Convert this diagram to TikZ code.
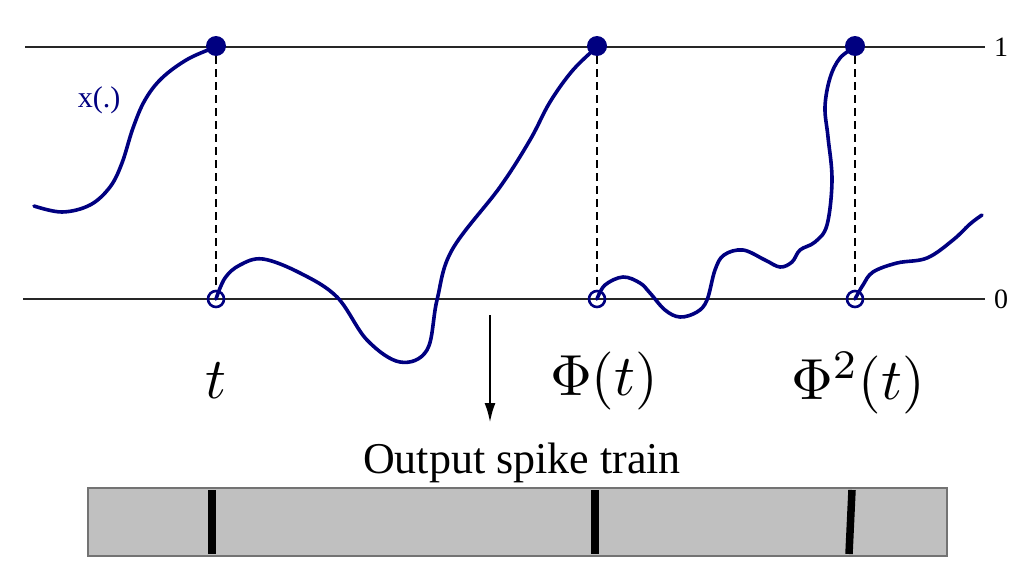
\documentclass[tikz,border=0pt]{standalone}
\usepackage{fontspec}
\newfontfamily\tms{Liberation Serif}
\usetikzlibrary{arrows.meta}
\definecolor{navy}{RGB}{0,0,128}
\definecolor{bargray}{RGB}{192,192,192}
\begin{document}
\begin{tikzpicture}[x=1pt,y=-1pt,
  curve/.style={draw=navy, line width=3.6pt, line cap=round, line join=round},
  level/.style={draw=black!85, line width=1.5pt},
  drop/.style={draw=black, line width=1.1pt, dash pattern=on 8pt off 5pt},
  fulldot/.style={circle, fill=navy, inner sep=0pt, minimum size=20pt},
  opendot/.style={circle, draw=navy, line width=2.6pt, inner sep=0pt, minimum size=16pt},
  mathlbl/.style={scale=5.8},
  txt/.style={font=\tms\fontsize{44}{50}\selectfont},
  axlbl/.style={font=\tms\fontsize{28}{32}\selectfont},
  spike/.style={draw=black, line width=7.5pt}]
\useasboundingbox (0,0) rectangle (1012,568);
% threshold and reset lines
\draw[level] (25,47) -- (985,47);
\draw[level] (23,299) -- (985,299);
\node[axlbl] (one) at (1001,47) {1};
\node[axlbl] (zero) at (1001,299) {0};
% curves
\draw[curve] plot[smooth, tension=0.6] coordinates {(34,206) (62,212) (90,205) (110,187) (122,163) (133,128) (145,100) (162,78) (188,59) (216,47)};
\draw[curve] plot[smooth, tension=0.6] coordinates {(216,299) (225,278) (240,265) (263,259) (300,273) (337,297) (367,340) (400,362) (427,350) (437,300) (452,250) (500,187) (530,140) (550,102) (573,70) (597,47)};
\draw[curve] plot[smooth, tension=0.6] coordinates {(597,299) (605,285) (623,277) (640,283) (650,293) (665,310) (680,317) (697,312) (707,300) (715,270) (724,255) (743,250) (765,260) (780,267) (792,262) (800,250) (815,242) (827,225) (832,180) (828,137) (825,107) (830,78) (840,58) (855,47)};
\draw[curve] plot[smooth, tension=0.6] coordinates {(855,299) (863,285) (873,272) (897,263) (927,258) (953,240) (970,224) (982,215)};
\node[font=\tms\fontsize{30}{34}\selectfont, text=navy] (xlbl) at (99,100) {x(.)};
% spike points
\node[fulldot] (u1) at (216,46) {};
\node[fulldot] (u2) at (597,46) {};
\node[fulldot] (u3) at (855,46) {};
\node[opendot] (d1) at (216,299) {};
\node[opendot] (d2) at (597,299) {};
\node[opendot] (d3) at (855,299) {};
\draw[drop] (u1) -- (d1);
\draw[drop] (u2) -- (d2);
\draw[drop] (u3) -- (d3);
% labels
\node[mathlbl] (lt) at (216,381) {$t$};
\node[mathlbl] (lp1) at (604,381) {$\Phi(t)$};
\node[mathlbl] (lp2) at (858,383) {$\Phi^2(t)$};
% arrow and output
\coordinate (a0) at (490,315);
\coordinate (a1) at (490,423);
\draw[line width=2.8pt, -{Latex[length=20pt,width=11pt]}] (a0) -- (a1);
\node[txt] (out) at (522,463) {Output spike train};
\draw[fill=bargray, draw=black!55, line width=1.2pt] (88,488) rectangle (947,556);
\coordinate (s1a) at (212,490); \coordinate (s1b) at (212,554);
\coordinate (s2a) at (595,490); \coordinate (s2b) at (595,554);
\coordinate (s3a) at (852,490); \coordinate (s3b) at (849,554);
\draw[spike] (s1a) -- (s1b);
\draw[spike] (s2a) -- (s2b);
\draw[spike] (s3a) -- (s3b);
\end{tikzpicture}
\end{document}
